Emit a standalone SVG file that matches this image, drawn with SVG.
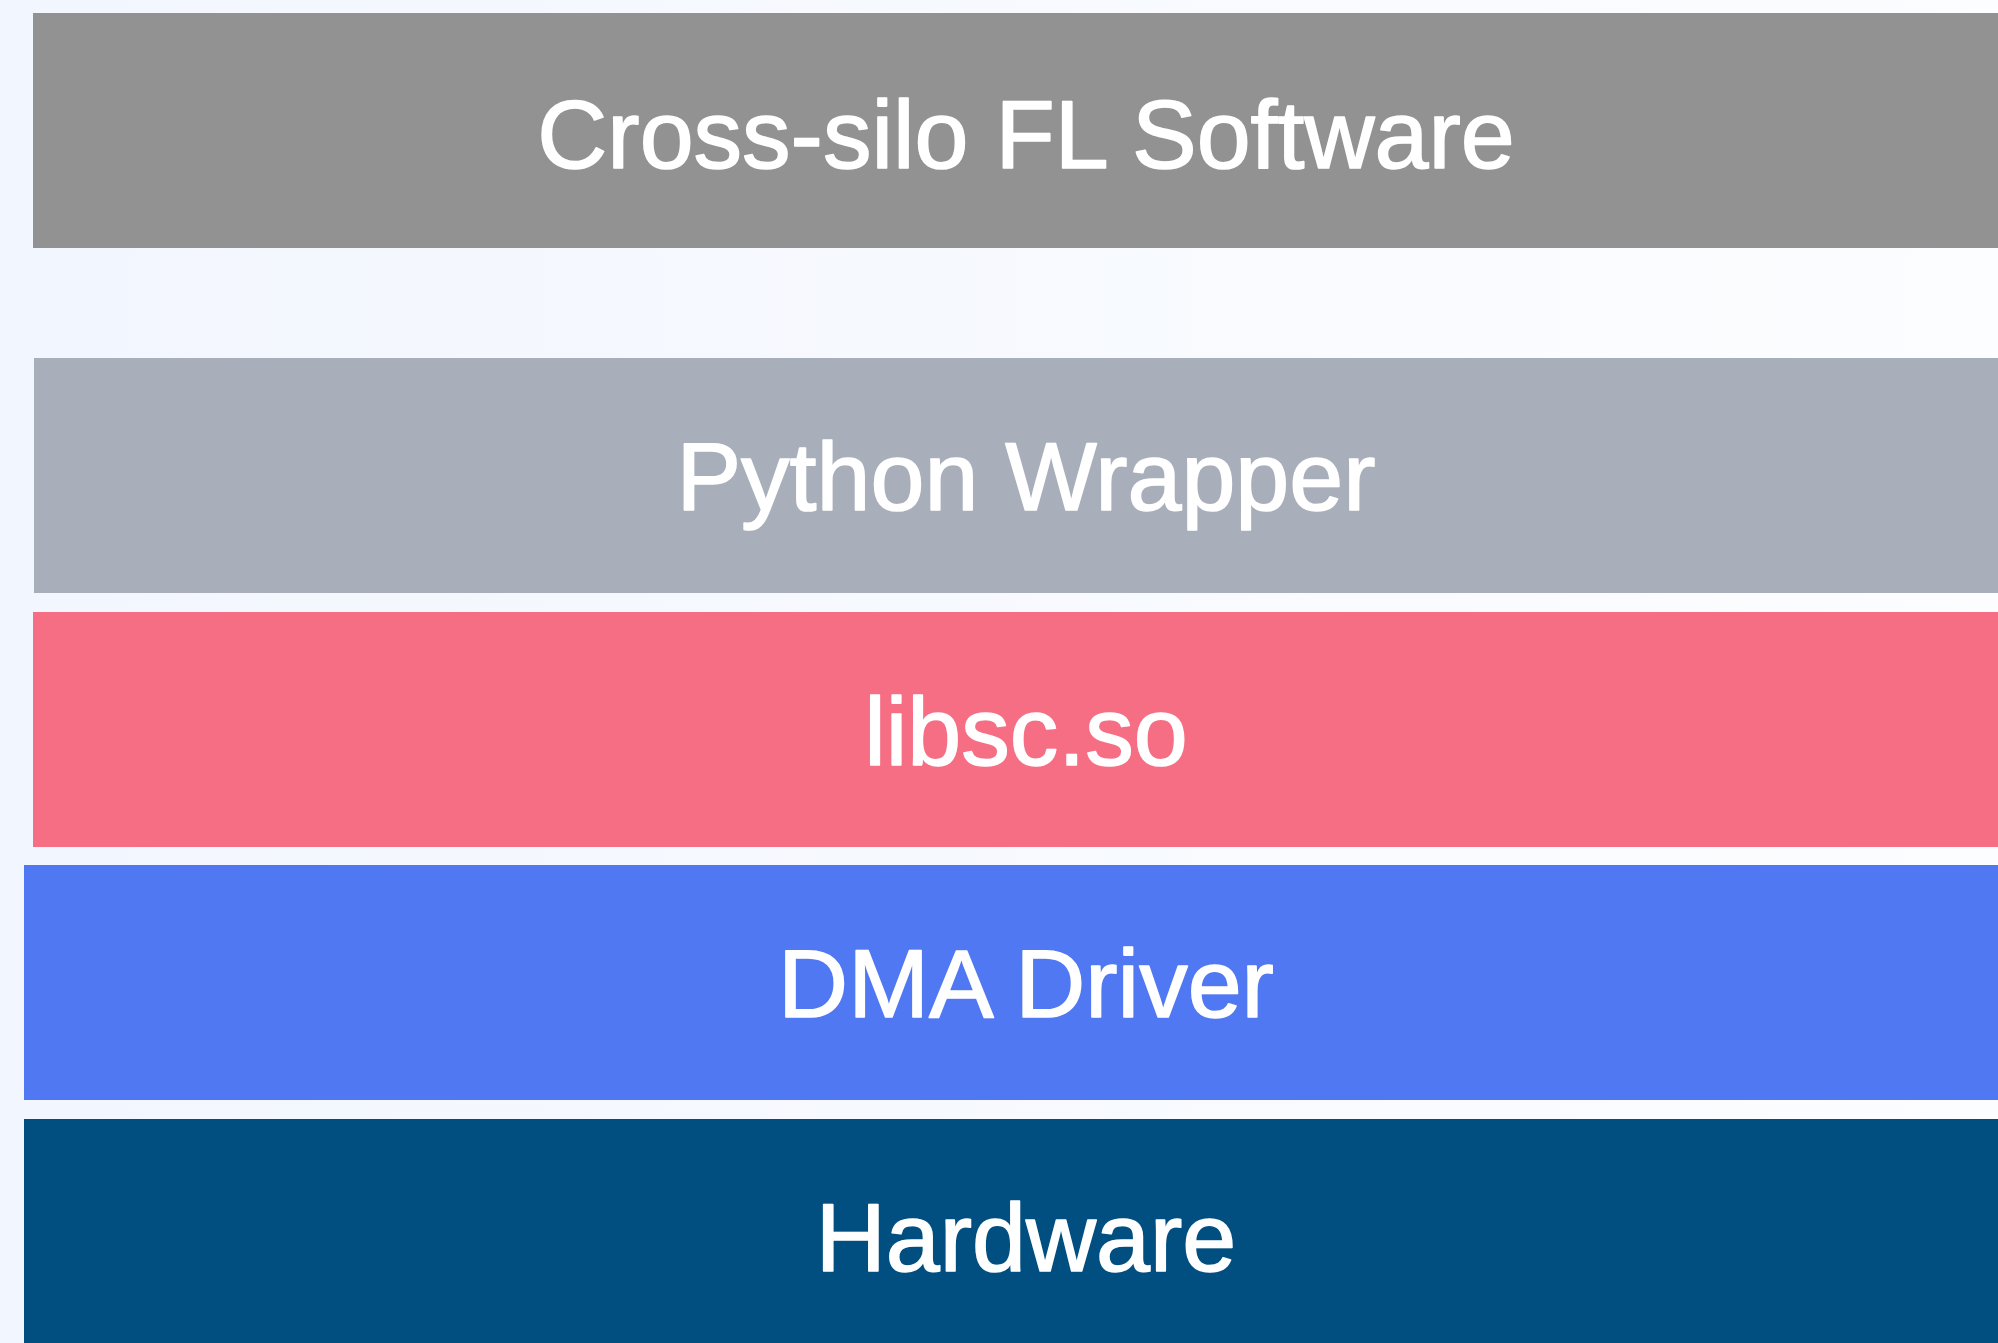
<svg xmlns="http://www.w3.org/2000/svg" width="1998" height="1343" viewBox="0 0 1998 1343">
  <defs>
    <linearGradient id="bg" x1="0" y1="0" x2="1" y2="0">
      <stop offset="0" stop-color="#f2f6fe"/>
      <stop offset="1" stop-color="#fcfdff"/>
    </linearGradient>
  </defs>
  <style>
    .layer-label { font-family: "Liberation Sans", Arial, Helvetica, sans-serif; font-size: 97px; fill: #ffffff; stroke: #ffffff; stroke-width: 1.6px; stroke-linejoin: round; text-anchor: middle; }
  </style>
  <rect x="0" y="0" width="1998" height="1343" fill="url(#bg)"/>

  <!-- software stack, top to bottom -->
  <g id="cross-silo-fl-software">
    <rect x="33" y="13" width="1965" height="235" fill="#929292"/>
    <text class="layer-label" x="1026" y="168">Cross-silo FL Software</text>
  </g>
  <g id="python-wrapper">
    <rect x="34" y="358" width="1964" height="235" fill="#a9afba"/>
    <text class="layer-label" x="1026" y="510">Python Wrapper</text>
  </g>
  <g id="libsc-so">
    <rect x="33" y="612" width="1965" height="235" fill="#f66e84"/>
    <text class="layer-label" x="1026" y="765">libsc.so</text>
  </g>
  <g id="dma-driver">
    <rect x="24" y="865" width="1974" height="235" fill="#5178f3"/>
    <text class="layer-label" x="1026" y="1017">DMA Driver</text>
  </g>
  <g id="hardware">
    <rect x="24" y="1119" width="1974" height="235" fill="#004f80"/>
    <text class="layer-label" x="1026" y="1271">Hardware</text>
  </g>

  <g id="connectors"/>
</svg>
